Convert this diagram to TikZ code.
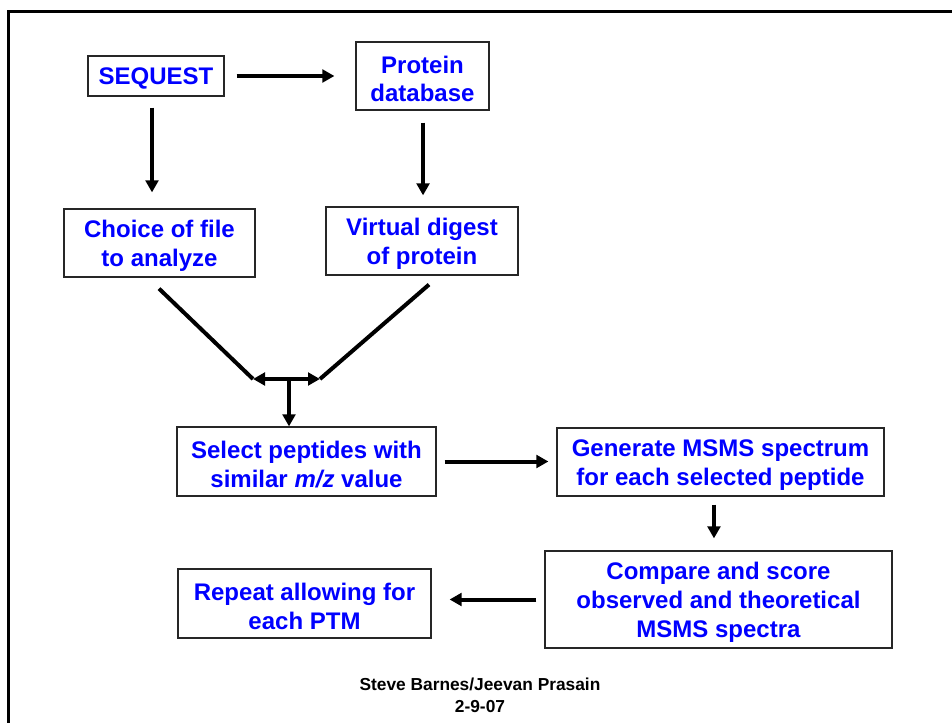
\documentclass[tikz,border=0pt]{standalone}
\usepackage{fontspec}
\setmainfont{Liberation Sans}
\usetikzlibrary{arrows.meta}
\definecolor{txtblue}{RGB}{0,0,255}
\begin{document}
\begin{tikzpicture}[x=0.75pt,y=-0.75pt,
  frame/.style={draw=black!85, line width=0.9pt, fill=white, inner sep=0pt},
  txt/.style={text=txtblue, font=\fontsize{18}{21.6}\selectfont\bfseries, align=center, inner sep=0pt},
  arr/.style={line width=3pt, -{Triangle[length=9pt,width=9.5pt]}},
  dbl/.style={line width=3pt, {Triangle[length=9pt,width=9.5pt]}-{Triangle[length=9pt,width=9.5pt]}},
  ln/.style={line width=3pt},
  ]
\useasboundingbox (0,0) rectangle (952,723);
\draw[line width=2.25pt] (952,12) -- (8,12) -- (8,723);

\node[frame, minimum width=102pt, minimum height=30pt] (seq) at (156,76) {};
\node[frame, minimum width=99.75pt, minimum height=51pt] (prot) at (422.5,76) {};
\node[frame, minimum width=143.25pt, minimum height=51pt] (choice) at (159.5,243) {};
\node[frame, minimum width=144pt, minimum height=51pt] (virt) at (422,241) {};
\node[frame, minimum width=194.25pt, minimum height=51.75pt] (sel) at (306.5,461.5) {};
\node[frame, minimum width=245.25pt, minimum height=51pt] (gen) at (720.5,462) {};
\node[frame, minimum width=260.25pt, minimum height=72.75pt] (cmp) at (718.5,599.5) {};
\node[frame, minimum width=189.75pt, minimum height=51.75pt] (rep) at (304.5,603.5) {};

\node[txt] (seqT) at ([yshift=-1.5pt]seq.center) {SEQUEST};
\node[txt] (protT) at ([yshift=-2.25pt]prot.center) {Protein\\database};
\node[txt] (choiceT) at ([yshift=-2.25pt]choice.center) {Choice of file\\to analyze};
\node[txt] (virtT) at ([yshift=-2.25pt]virt.center) {Virtual digest\\of protein};
\node[txt] (selT) at ([yshift=-2.25pt]sel.center) {Select peptides with\\similar \textit{m/z} value};
\node[txt] (genT) at ([yshift=-2.25pt]gen.center) {Generate MSMS spectrum\\for each selected peptide};
\node[txt] (cmpT) at ([yshift=-2.25pt]cmp.center) {Compare and score\\observed and theoretical\\MSMS spectra};
\node[txt] (repT) at ([yshift=-2.25pt]rep.center) {Repeat allowing for\\each PTM};

\node[font=\fontsize{13}{16.5}\selectfont\bfseries, align=center] (foot) at (480,695) {Steve Barnes/Jeevan Prasain\\2-9-07};

\coordinate (jl) at (253,379);
\coordinate (jr) at (320,379);
\coordinate (jm) at (289,379);

\draw[arr, shorten <=9pt, shorten >=15.75pt] (seq.east) -- (seq.east -| prot.west);
\draw[arr, shorten <=8.25pt, shorten >=12pt] ([xshift=-3pt]seq.south) -- ([xshift=-3pt]seq.south |- choice.north);
\draw[arr, shorten <=9pt, shorten >=8.25pt] ([xshift=0.4pt]prot.south) -- ([xshift=0.4pt]prot.south |- virt.north);
\draw[ln] ([xshift=-0.4pt,yshift=-8.25pt]choice.south) -- (jl);
\draw[ln] ([xshift=5.25pt,yshift=-6.75pt]virt.south) -- (jr);
\draw[dbl] (jl) -- (jr);
\draw[arr] (jm) -- (jm |- sel.north);
\draw[arr, shorten <=6pt, shorten >=6pt] (sel.east) -- (sel.east -| gen.west);
\draw[arr, shorten <=6pt, shorten >=9pt] ([xshift=-4.9pt]gen.south) -- ([xshift=-4.9pt]gen.south |- cmp.north);
\draw[arr, shorten <=6pt, shorten >=13.5pt] (cmp.west) -- (cmp.west -| rep.east);
\end{tikzpicture}
\end{document}
